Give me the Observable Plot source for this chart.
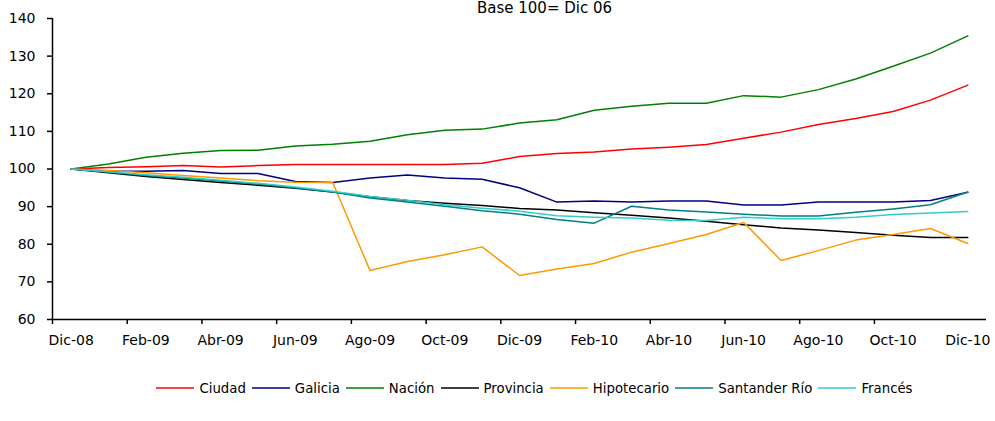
<!DOCTYPE html>
<html>
<head>
<meta charset="utf-8">
<script src="https://cdn.jsdelivr.net/npm/d3@7"></script>
<script src="https://cdn.jsdelivr.net/npm/@observablehq/plot@0.6"></script>
<style>
  html, body { margin: 0; padding: 0; background: #fff; }
  body { width: 995px; height: 421px; overflow: hidden; font-family: "DejaVu Sans", sans-serif; }
  #legend { display: flex; justify-content: center; align-items: center; margin-top: 15px; padding-left: 80px; height: 16px; font-size: 13.3px; color: #000; }
  .item { display: flex; align-items: center; margin-right: 6px; }
  .item svg { margin-right: 5px; }
</style>
</head>
<body>
<div id="chart"></div>
<div id="legend"></div>
<script>
const months = ["Dic-08","Ene-09","Feb-09","Mar-09","Abr-09","May-09","Jun-09","Jul-09","Ago-09","Sep-09","Oct-09","Nov-09","Dic-09","Ene-10","Feb-10","Mar-10","Abr-10","May-10","Jun-10","Jul-10","Ago-10","Sep-10","Oct-10","Nov-10","Dic-10"];
const yTicks = [60, 70, 80, 90, 100, 110, 120, 130, 140];
const title = "Base 100= Dic 06";

const seriesNames = ["Ciudad","Galicia","Nación","Provincia","Hipotecario","Santander Río","Francés"];
const seriesColors = ["#FF0000","#000080","#008000","#000000","#FF9900","#008080","#33CCCC"];

const ciudad      = [100,100.4,100.6,100.9,100.5,100.9,101.2,101.2,101.2,101.2,101.2,101.5,103.3,104.1,104.5,105.3,105.8,106.5,108.2,109.8,111.8,113.4,115.3,118.3,122.3];
const galicia     = [100,99.4,99.4,99.6,98.8,98.8,96.7,96.4,97.6,98.4,97.6,97.3,95.0,91.2,91.5,91.2,91.5,91.5,90.4,90.4,91.2,91.2,91.2,91.6,93.8];
const nacion      = [100,101.3,103.1,104.2,104.9,105.0,106.1,106.6,107.4,109.1,110.3,110.6,112.2,113.1,115.6,116.7,117.5,117.5,119.5,119.1,121.1,123.9,127.3,130.8,135.4];
const provincia   = [100,99.0,98.0,97.2,96.4,95.7,94.9,93.9,92.6,91.6,90.9,90.3,89.5,89.1,88.4,87.7,87.0,86.1,85.2,84.3,83.8,83.1,82.4,81.8,81.8];
const hipotecario = [100,99.6,99.0,98.3,97.6,96.9,96.5,96.4,73.0,75.4,77.2,79.3,71.7,73.4,74.9,77.9,80.2,82.6,85.8,75.7,78.3,81.1,82.6,84.2,80.2];
const santander   = [100,99.2,98.3,97.6,96.8,96.0,95.0,93.9,92.3,91.2,90.1,88.9,88.0,86.6,85.6,90.1,89.1,88.6,88.0,87.5,87.5,88.5,89.4,90.5,93.9];
const frances     = [100,99.3,98.5,97.8,97.0,96.2,95.2,94.1,92.7,91.7,90.5,89.6,88.8,87.6,87.2,87.0,86.4,86.3,87.2,86.8,86.8,87.2,87.9,88.3,88.7];

const seriesValues = [ciudad, galicia, nacion, provincia, hipotecario, santander, frances];
const rows = seriesNames.flatMap((name, k) => seriesValues[k].map((v, i) => ({serie: name, i, v})));

const labelIdx = d3.range(0, months.length, 2);
const tickPos = d3.range(0, months.length - 1, 2).map(i => i - 0.5);

const chart = Plot.plot({
  width: 995,
  height: 365,
  marginLeft: 52,
  marginRight: 9,
  marginTop: 18,
  marginBottom: 46,
  style: {fontFamily: "DejaVu Sans", fontSize: "14px", color: "#000", background: "#fff", overflow: "visible"},
  x: {domain: [-0.5, months.length - 0.5]},
  y: {domain: [60, 140]},
  color: {domain: seriesNames, range: seriesColors},
  marks: [
    Plot.axisY({ticks: yTicks, tickSize: 5, tickPadding: 12, label: null, fontSize: 14, strokeWidth: 1.5}),
    Plot.axisX({ticks: labelIdx, tickSize: 0, tickPadding: 16, tickFormat: i => months[i], label: null, fontSize: 14}),
    Plot.axisX({ticks: tickPos, tickSize: 5, tickFormat: () => "", label: null, strokeWidth: 1.5}),
    Plot.ruleX([-0.5], {stroke: "#000", strokeWidth: 1.5}),
    Plot.ruleY([60], {stroke: "#000", strokeWidth: 1.5}),
    Plot.line(rows, {x: "i", y: "v", z: "serie", stroke: "serie", strokeWidth: 1.5}),
    Plot.text([title], {frameAnchor: "top", text: d => d, lineAnchor: "middle", dy: -10, dx: 25, fontSize: 15})
  ]
});
document.getElementById("chart").appendChild(chart);

const legend = document.getElementById("legend");
seriesNames.forEach((name, k) => {
  const item = document.createElement("div");
  item.className = "item";
  item.innerHTML = `<svg width="38" height="4"><line x1="0" y1="2" x2="38" y2="2" stroke="${seriesColors[k]}" stroke-width="1.5"/></svg><span>${name}</span>`;
  legend.appendChild(item);
});
</script>
</body>
</html>
